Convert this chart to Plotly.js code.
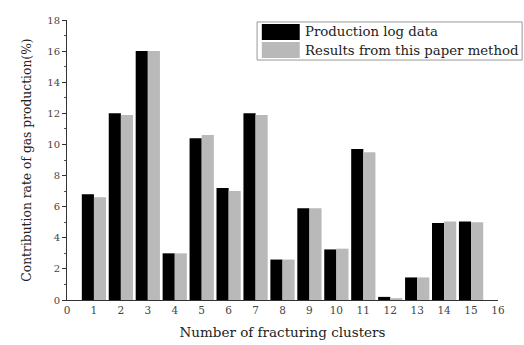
<!DOCTYPE html>
<html>
<head>
<meta charset="utf-8">
<script src="https://cdn.plot.ly/plotly-3.0.1.min.js"></script>
<style>html,body{margin:0;padding:0;background:#fff;}#chart{width:524px;height:345px;}</style>
</head>
<body>
<div id="chart"></div>
<script>
const clusters = [1,2,3,4,5,6,7,8,9,10,11,12,13,14,15];
const productionLog = [6.8,12.0,16.0,3.0,10.4,7.2,12.0,2.6,5.9,3.25,9.7,0.2,1.45,4.95,5.05];
const paperMethod = [6.6,11.9,16.0,3.0,10.6,7.0,11.9,2.6,5.9,3.3,9.5,0.12,1.45,5.05,5.0];
const seriesNames = ['Production log data','Results from this paper method'];
const xTicks = [0,1,2,3,4,5,6,7,8,9,10,11,12,13,14,15,16];
const yTicks = [0,2,4,6,8,10,12,14,16,18];

const font = 'DejaVu Serif, Liberation Serif, serif';
const data = [
  {type:'bar', x:clusters, y:productionLog, name:seriesNames[0], marker:{color:'#000000'}},
  {type:'bar', x:clusters, y:paperMethod, name:seriesNames[1], marker:{color:'#b9b9b9'}}
];
const layout = {
  width:524, height:345,
  margin:{l:67, r:26, t:20, b:45},
  paper_bgcolor:'#fff', plot_bgcolor:'#fff',
  font:{family:font, color:'#222', size:11},
  showlegend:false,
  barmode:'group', bargap:0.1, bargroupgap:0,
  xaxis:{range:[0,16], tickvals:xTicks, ticktext:xTicks.map(String), showgrid:false, zeroline:false,
    showline:true, linecolor:'#333', linewidth:1, ticks:'', ticklen:0,
    tickfont:{family:font, size:10.5, color:'#444'},
    title:{text:'Number of fracturing clusters', font:{family:font, size:13.5, color:'#222'}, standoff:12}},
  yaxis:{range:[0,18], tickvals:yTicks, ticktext:yTicks.map(String), showgrid:false, zeroline:false,
    showline:true, linecolor:'#333', linewidth:1, ticks:'outside', ticklen:4, tickcolor:'#333',
    minor:{dtick:1, ticks:'outside', ticklen:2, tickcolor:'#555'},
    tickfont:{family:font, size:10, color:'#444'},
    title:{text:'Contribution rate of gas production(%)', font:{family:font, size:12.3, color:'#222'}, standoff:12}},
  shapes:[
    {type:'rect', xref:'paper', yref:'paper', x0:0.441, x1:1.056, y0:0.857, y1:0.993, line:{color:'#999', width:1}, fillcolor:'#fff'},
    {type:'rect', xref:'paper', yref:'paper', x0:0.452, x1:0.540, y0:0.929, y1:0.986, line:{width:0}, fillcolor:'#000'},
    {type:'rect', xref:'paper', yref:'paper', x0:0.452, x1:0.540, y0:0.864, y1:0.921, line:{width:0}, fillcolor:'#b9b9b9'}
  ],
  annotations:[
    {xref:'paper', yref:'paper', x:0.548, y:0.9575, xanchor:'left', yanchor:'middle', showarrow:false, text:seriesNames[0], font:{family:font, size:13.3, color:'#222'}},
    {xref:'paper', yref:'paper', x:0.548, y:0.8925, xanchor:'left', yanchor:'middle', showarrow:false, text:seriesNames[1], font:{family:font, size:13.3, color:'#222'}}
  ]
};
Plotly.newPlot('chart', data, layout, {displayModeBar:false, staticPlot:true});
</script>
</body>
</html>
